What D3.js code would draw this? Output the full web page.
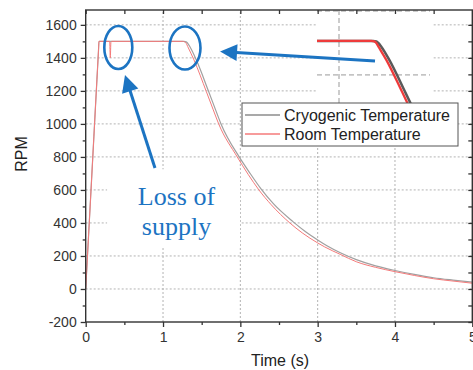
<!DOCTYPE html>
<html><head><meta charset="utf-8">
<script src="https://cdn.jsdelivr.net/npm/d3@7"></script>
<style>
html,body{margin:0;padding:0;background:#fff;}
svg{display:block;font-family:"Liberation Sans",Arial,sans-serif;}
</style></head>
<body>
<svg id="c" width="473" height="370"></svg>
<script>
// ---- data ----
const roomTime = [0, 0.086, 0.165, 0.172, 0.30, 0.31, 0.318, 0.326, 0.335, 1.25, 1.28, 1.30, 1.32, 1.40, 1.56, 1.65, 1.72, 1.96, 2.10, 2.24, 2.40, 2.64, 2.80, 3.00, 3.09, 3.30, 3.50, 3.75, 4.00, 4.25, 4.50, 4.75, 5.00];
const roomRPM  = [0, 750, 1440, 1500, 1500, 1500, 1400, 1495, 1500, 1500, 1497, 1488, 1468, 1388, 1196, 1085, 1000, 800, 695, 600, 510, 400, 340, 279, 255, 208, 165, 131, 105, 82, 62, 48, 35];
const cryoTime = [0, 0.086, 0.165, 0.172, 1.27, 1.30, 1.32, 1.35, 1.43, 1.59, 1.68, 1.75, 1.985, 2.13, 2.27, 2.43, 2.68, 2.84, 3.00, 3.12, 3.30, 3.50, 3.75, 4.00, 4.25, 4.50, 4.75, 5.00];
const cryoRPM  = [0, 750, 1440, 1500, 1500, 1497, 1488, 1466, 1388, 1196, 1085, 1000, 800, 698, 605, 515, 408, 348, 297, 262, 218, 178, 140, 112, 88, 68, 54, 42];
const xTicks = [0, 1, 2, 3, 4, 5];
const xMinor = [0.5, 1.5, 2.5, 3.5, 4.5];
const yTicks = [-200, 0, 200, 400, 600, 800, 1000, 1200, 1400, 1600];
const yMinor = [-100, 100, 300, 500, 700, 900, 1100, 1300, 1500];
const seriesNames = ["Cryogenic Temperature", "Room Temperature"];
// annotations in data units
const circleCenters = [[0.4216, 1463], [1.284, 1460]];
const arrowTails = [[3.742, 1381], [0.896, 733]];
const arrowTips  = [[1.738, 1438], [0.508, 1296]];
const noteLines = ["Loss of", "supply"];
const noteAnchor = [[1.174, 509], [1.174, 327]];
const noteBox = [[0.277, 725], [1.996, 248]];
// inset (zoom view of the start of the spin-down)
const insetT = [0.707, 1.857];
const insetRPM = [1133, 1683];
const insetGridT = [0.927];
const insetGridRPM = [1299, 1677];

// ---- layout ----
const svg = d3.select("#c");
const x = d3.scaleLinear().domain([0, 5]).range([85.7, 472.3]);
const y = d3.scaleLinear().domain([-200, 1690]).range([322, 10]);
const axisCol = "#333";
const blue = "#1c74c2";

const room = roomTime.map((t, i) => [t, roomRPM[i]]);
const cryo = cryoTime.map((t, i) => [t, cryoRPM[i]]);

// grid
const g = svg.append("g");
g.selectAll("line.gy").data(yTicks.filter(v => v >= 0)).join("line")
  .attr("x1", x(0)).attr("x2", x(5)).attr("y1", d => y(d)).attr("y2", d => y(d))
  .attr("stroke", "#b3b3b3").attr("stroke-width", 1).attr("stroke-dasharray", "2,2");
g.selectAll("line.gx").data(xTicks.filter(v => v > 0 && v < 5)).join("line")
  .attr("y1", y(-200)).attr("y2", y(1690)).attr("x1", d => x(d)).attr("x2", d => x(d))
  .attr("stroke", "#b3b3b3").attr("stroke-width", 1).attr("stroke-dasharray", "2,2");

// white area behind the annotation text
svg.append("rect")
  .attr("x", x(noteBox[0][0])).attr("y", y(noteBox[0][1]))
  .attr("width", x(noteBox[1][0]) - x(noteBox[0][0]))
  .attr("height", y(noteBox[1][1]) - y(noteBox[0][1]))
  .attr("fill", "#fff");

// main lines
const line = d3.line().x(d => x(d[0])).y(d => y(d[1])).curve(d3.curveMonotoneX);
svg.append("path").datum(cryo).attr("d", line).attr("fill", "none")
  .attr("stroke", "#a0a0a0").attr("stroke-width", 1.2);
svg.append("path").datum(room).attr("d", line).attr("fill", "none")
  .attr("stroke", "#f47a7a").attr("stroke-width", 1);

// inset
const xi = d3.scaleLinear().domain(insetT).range([317, 432]);
const yi = d3.scaleLinear().domain(insetRPM).range([103, 10]);
const ins = svg.append("g");
ins.append("rect").attr("x", 317).attr("y", 10).attr("width", 115).attr("height", 93).attr("fill", "#fff");
ins.append("clipPath").attr("id", "ic").append("rect").attr("x", 317).attr("y", 10).attr("width", 115).attr("height", 93);
ins.selectAll("line.ih").data(insetGridRPM).join("line")
  .attr("x1", xi.range()[0]).attr("x2", xi.range()[1] - 2).attr("y1", d => yi(d)).attr("y2", d => yi(d))
  .attr("stroke", "#999").attr("stroke-dasharray", "5,3");
ins.selectAll("line.iv").data(insetGridT).join("line")
  .attr("x1", d => xi(d)).attr("x2", d => xi(d)).attr("y1", 10).attr("y2", 103)
  .attr("stroke", "#999").attr("stroke-dasharray", "5,3");
const iline = d3.line().x(d => xi(d[0])).y(d => yi(d[1])).curve(d3.curveMonotoneX);
const ic = ins.append("g").attr("clip-path", "url(#ic)");
ic.append("path").datum(cryo).attr("d", iline).attr("fill", "none").attr("stroke", "#5a5a5a").attr("stroke-width", 2.5);
ic.append("path").datum(room).attr("d", iline).attr("fill", "none").attr("stroke", "#ee3b3b").attr("stroke-width", 2.3);

// legend
const lg = svg.append("g").attr("transform", "translate(242,103)");
lg.append("rect").attr("width", 216).attr("height", 43).attr("fill", "#fff").attr("stroke", "#555").attr("stroke-width", 1);
const lcol = ["#8c8c8c", "#f47a7a"];
seriesNames.forEach((n, i) => {
  lg.append("line").attr("x1", 3).attr("x2", 38).attr("y1", 12 + i * 19).attr("y2", 12 + i * 19)
    .attr("stroke", lcol[i]).attr("stroke-width", 1.4);
  lg.append("text").attr("x", 42).attr("y", 17.5 + i * 19.5).attr("font-size", 16).attr("fill", "#222").text(n);
});

// frame + axes
svg.append("rect").attr("x", x(0)).attr("y", y(1690)).attr("width", x(5) - x(0)).attr("height", y(-200) - y(1690))
  .attr("fill", "none").attr("stroke", axisCol).attr("stroke-width", 1.4);

function styleAxis(sel) {
  sel.select(".domain").remove();
  sel.selectAll("line").attr("stroke", axisCol).attr("stroke-width", 1.3);
  sel.selectAll("text").attr("fill", "#333").attr("font-size", 14).attr("font-family", "Liberation Sans, Arial, sans-serif");
}
const plain = d => String(d);
svg.append("g").attr("transform", `translate(${x(0)},0)`)
  .call(d3.axisLeft(y).tickValues(yTicks).tickSize(5).tickPadding(4).tickFormat(plain)).call(styleAxis);
svg.append("g").attr("transform", `translate(${x(0)},0)`)
  .call(d3.axisLeft(y).tickValues(yMinor).tickSize(3).tickFormat("")).call(styleAxis);
svg.append("g").attr("transform", `translate(0,${y(-200)})`)
  .call(d3.axisBottom(x).tickValues(xTicks).tickSize(5).tickPadding(5).tickFormat(plain)).call(styleAxis);
svg.append("g").attr("transform", `translate(0,${y(-200)})`)
  .call(d3.axisBottom(x).tickValues(xMinor).tickSize(3).tickFormat("")).call(styleAxis);
svg.append("g").attr("transform", `translate(0,${y(1690)})`)
  .call(d3.axisTop(x).tickValues(xTicks.concat(xMinor)).tickSize(-4).tickFormat("")).call(styleAxis);
svg.append("g").attr("transform", `translate(${x(5)},0)`)
  .call(d3.axisRight(y).tickValues(yTicks.concat(yMinor)).tickSize(-4).tickFormat("")).call(styleAxis);

// axis titles
svg.append("text").attr("transform", "translate(27,154) rotate(-90)").attr("text-anchor", "middle")
  .attr("font-size", 16).attr("fill", "#222").text("RPM");
svg.append("text").attr("x", 280).attr("y", 366).attr("text-anchor", "middle")
  .attr("font-size", 16).attr("fill", "#222").text("Time (s)");

// annotations
const an = svg.append("g");
circleCenters.forEach((c, i) => {
  an.append("ellipse").attr("cx", x(c[0])).attr("cy", y(c[1])).attr("rx", i === 0 ? 14 : 15.5).attr("ry", 21.5)
    .attr("fill", "none").attr("stroke", blue).attr("stroke-width", 2.6);
});
arrowTails.forEach((tl, i) => {
  const x1 = x(tl[0]), y1 = y(tl[1]), x2 = x(arrowTips[i][0]), y2 = y(arrowTips[i][1]);
  const dx = x2 - x1, dy = y2 - y1, len = Math.hypot(dx, dy), ux = dx / len, uy = dy / len;
  const L = 17, w = 8.5, bx = x2 - ux * L, by = y2 - uy * L;
  an.append("line").attr("x1", x1).attr("y1", y1).attr("x2", bx + ux).attr("y2", by + uy)
    .attr("stroke", blue).attr("stroke-width", 3);
  an.append("path").attr("d", `M${x2},${y2}L${bx - uy * w},${by + ux * w}L${bx + uy * w},${by - ux * w}Z`)
    .attr("fill", blue);
});
noteLines.forEach((s, i) => {
  an.append("text").attr("x", x(noteAnchor[i][0])).attr("y", y(noteAnchor[i][1])).attr("text-anchor", "middle")
    .attr("font-family", "Liberation Serif, Times New Roman, serif").attr("font-size", 26).attr("fill", blue).text(s);
});
</script>
</body></html>
